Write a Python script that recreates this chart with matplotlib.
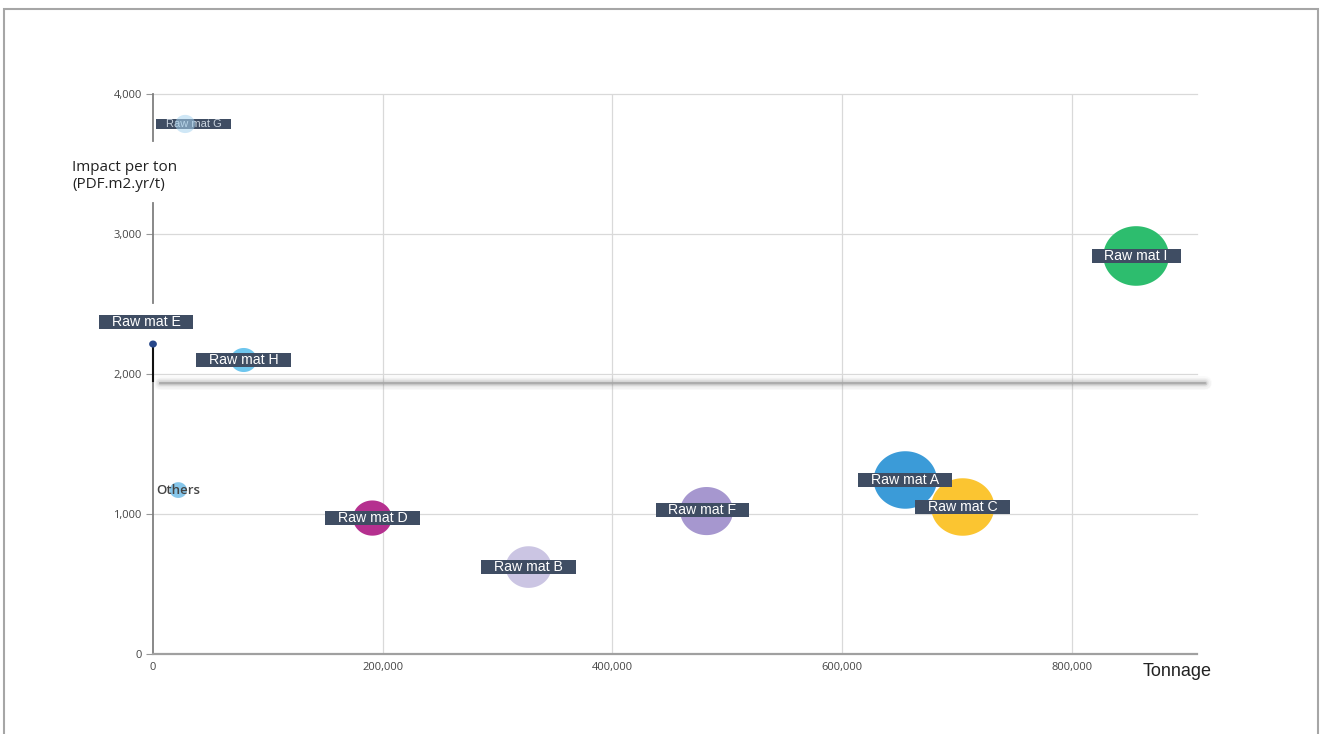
import numpy as np
import matplotlib
matplotlib.use('Agg')
import matplotlib.pyplot as plt
from matplotlib.path import Path
from matplotlib.markers import MarkerStyle
from matplotlib.patches import Rectangle

# raw material bubbles: tonnage, impact per ton, bubble weight (hundreds)
names = ['Raw mat A', 'Raw mat B', 'Raw mat C', 'Raw mat D', 'Raw mat E',
         'Raw mat F', 'Raw mat G', 'Raw mat H', 'Raw mat I', 'Others']
tonnage = [655000, 327000, 705000, 191000, 0, 482000, 28000, 79000, 856000, 22000]
impact = [1243, 621, 1050, 971, 2214, 1021, 3786, 2100, 2843, 1171]
bubble = [40, 21, 40, 15, 0.6, 28, 4, 7, 43, 3]
colors = ['#3b9bd8', '#cbc5e3', '#fbc531', '#b5308f', '#27478a',
          '#a697cf', '#a8d4f0', '#6ec6ee', '#2dbd6e', '#86c6ea']

xticks = [0, 200000, 400000, 600000, 800000]
yticks = [0, 1000, 2000, 3000, 4000]
threshold = 1936

label_font = 'Liberation Sans'
tick_font = 'Open Sans'

# label offsets in points (most labels sit right on the bubble)
label_offset = {'Raw mat E': (-5, 16), 'Raw mat G': (6, 0), 'Raw mat F': (-3, 1)}

fig = plt.figure(figsize=(13.23, 7.34), dpi=100)
ax = fig.add_axes([153/1323, 1-654/734, (1197-153)/1323, (654-94)/734])
ax.set_xlim(0, 909000)
ax.set_ylim(0, 4000)


def label_box(x0, y0, width, height, mutation_size):
    px = 0.9 * mutation_size
    py = 0.0 * mutation_size
    x0, y0, x1, y1 = x0 - px, y0 - py, x0 + width + px, y0 + height + py
    return Path([(x0, y0), (x1, y0), (x1, y1), (x0, y1), (x0, y0)], closed=True)


# slightly wide ellipse marker
t = np.linspace(0, 2*np.pi, 120)
ell = MarkerStyle(Path(np.column_stack([1.1*np.cos(t), np.sin(t)]), closed=True))

sizes = np.array(bubble) * 100 * 0.72**2
for i, n in enumerate(names):
    z = 6 if n == 'Raw mat G' else 3
    a = 0.55 if n == 'Raw mat G' else 1
    ax.scatter(tonnage[i], impact[i], s=sizes[i], marker=ell, color=colors[i],
               edgecolors='none', zorder=z, alpha=a, clip_on=False)

for i, n in enumerate(names):
    if n == 'Others':
        ax.annotate(n, (tonnage[i], impact[i]), xytext=(0, 0), textcoords='offset points',
                    ha='center', va='center', fontsize=9.5, color='#444444',
                    family=tick_font, fontweight='semibold', zorder=5)
        continue
    dx, dy = label_offset.get(n, (0, 0))
    small = n == 'Raw mat G'
    ax.annotate(n, (tonnage[i], impact[i]), xytext=(dx, dy), textcoords='offset points',
                ha='center', va='center', fontsize=8 if small else 10.2,
                color='#c9d3de' if small else 'white', family=label_font, zorder=5,
                bbox=dict(boxstyle=label_box, fc='#3f4d63', ec='none'),
                annotation_clip=False)

# gridlines
for x in xticks[1:]:
    ax.axvline(x, color='#d9d9d9', lw=0.9, zorder=0)
for y in yticks[1:]:
    ax.axhline(y, color='#d9d9d9', lw=0.9, zorder=0, clip_on=False)

# threshold line with soft shadow
xs = [6000, 916000]
for w, a in [(10, 0.03), (8, 0.05), (6, 0.08), (4, 0.12), (2.5, 0.2)]:
    ax.plot(xs, [threshold]*2, color='#7a7a7a', lw=w, alpha=a,
            solid_capstyle='round', clip_on=False, zorder=1)
ax.plot(xs, [threshold]*2, color='#a8a8a8', lw=1.2, clip_on=False, zorder=1)

# broken y axis line
ax.plot([0, 0], [0, 1950], color='#7f7f7f', lw=1.3, clip_on=False, zorder=2)
ax.plot([0, 0], [1950, impact[4]], color='#111111', lw=1.5, clip_on=False, zorder=2)
ax.plot([0, 0], [2505, 3220], color='#7f7f7f', lw=1.3, clip_on=False, zorder=2)
ax.plot([0, 0], [3665, 4000], color='#7f7f7f', lw=1.3, clip_on=False, zorder=2)

for s in ['left', 'top', 'right']:
    ax.spines[s].set_visible(False)
ax.spines['bottom'].set_color('#a0a0a0')
ax.spines['bottom'].set_linewidth(1.6)

ax.set_xticks(xticks)
ax.set_yticks(yticks)
ax.set_xticklabels([f'{v:,}' for v in xticks])
ax.set_yticklabels([f'{v:,}' for v in yticks])
ax.tick_params(axis='x', length=0, pad=6)
ax.tick_params(axis='y', length=5, color='#999999', width=0.8, pad=3)
for lab in ax.get_xticklabels() + ax.get_yticklabels():
    lab.set_family(tick_font)
    lab.set_fontsize(8)
    lab.set_color('#444444')

fig.text(72/1323, 1-176/734, 'Impact per ton\n(PDF.m2.yr/t)', ha='left', va='center',
         fontsize=11, family=tick_font, color='#222222', linespacing=1.15)
fig.text(1143/1323, 1-672/734, 'Tonnage', ha='left', va='center',
         fontsize=13, family=label_font, color='#222222')

# outer frame
fig.patches.append(Rectangle((4/1323, -0.02), (1318-4)/1323, 1.02-9/734,
                             transform=fig.transFigure, fill=False,
                             edgecolor='#a6a6a6', lw=1.5))

fig.savefig('out.png', dpi=100)
